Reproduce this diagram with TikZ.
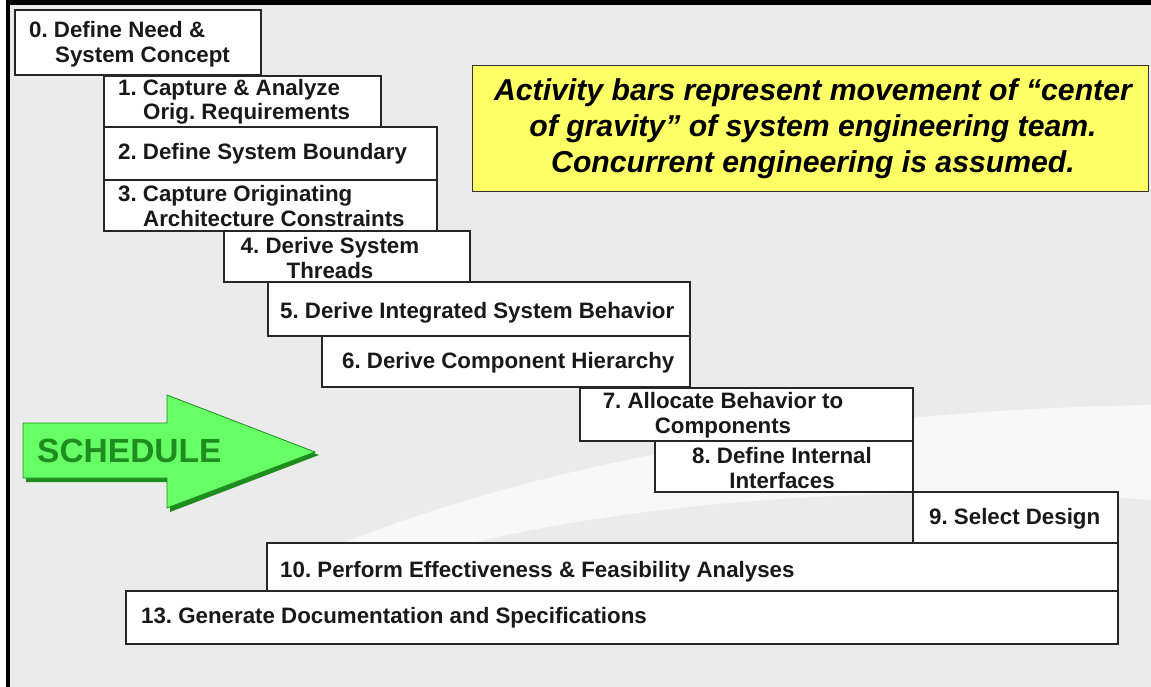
\documentclass[tikz,border=0pt]{standalone}
\usepackage{fontspec}
\setmainfont{Liberation Sans}
\definecolor{bggray}{HTML}{EBEBEB}
\definecolor{noteyellow}{HTML}{FFFF66}
\definecolor{arrowgreen}{HTML}{66FF66}
\definecolor{darkgreen}{HTML}{1E8C1E}
\frenchspacing
\begin{document}
\begin{tikzpicture}[x=1pt,y=-1pt,
  bar/.style={draw=black!85, line width=1.6pt, fill=white, anchor=north west, inner sep=0pt, outer sep=0pt},
  lbl/.style={font=\fontsize{22.3}{24.5}\selectfont\bfseries, text=black!90, inner sep=0pt, anchor=west},
  clbl/.style={lbl, align=center, anchor=center},
  hlbl/.style={lbl, align=left},
  note/.style={draw=black!80, line width=1.4pt, fill=noteyellow, anchor=north west, inner sep=0pt},
  notetext/.style={font=\fontsize{30.2}{36}\selectfont\bfseries\itshape, align=center, inner sep=0pt}
]
\useasboundingbox (0,0) rectangle (1151,687);
% background and frame
\fill[white] (0,0) rectangle (1151,687);
\fill[bggray] (8,2) rectangle (1151,687);
\fill[white, opacity=0.65] (330,548) .. controls (560,455) and (850,410) .. (1151,405)
  -- (1151,500) .. controls (900,482) and (640,500) .. (450,548) -- cycle;
\draw[line width=4pt] (8,687) -- (8,2.5);
\draw[line width=5pt] (6,2.5) -- (1151,2.5);

% schedule arrow
\fill[darkgreen] (26,426) -- (170,426) -- (170,398) -- (319,455) -- (170,512) -- (170,482) -- (26,482) -- cycle;
\filldraw[draw=darkgreen, line width=0.8pt, fill=arrowgreen] (23,423) -- (167,423) -- (167,395) -- (315,452) -- (167,508) -- (167,478) -- (23,478) -- cycle;
\node[font=\fontsize{33.5}{36}\selectfont\bfseries, text=darkgreen, inner sep=0pt, anchor=west] (sched) at (37,451) {SCHEDULE};

% note
\node[note, minimum width=676pt, minimum height=126pt] (notebox) at (472,65) {};
\node[notetext] (notetxt) at (813,129) {Activity bars represent movement of “center\\of gravity” of system engineering team.\\Concurrent engineering is assumed.};

% activity bars
\node[bar, minimum width=246pt, minimum height=65pt] (b0) at (15,10) {};
\node[hlbl] (t0) at (29,44) {0. Define Need \&\\\hspace*{26pt}System Concept};
\node[bar, minimum width=277pt, minimum height=51pt] (b1) at (104,76) {};
\node[hlbl] (t1) at (118,102) {1. Capture \& Analyze\\\hspace*{25pt}Orig. Requirements};
\node[bar, minimum width=333pt, minimum height=53pt] (b2) at (104,127) {};
\node[lbl] (t2) at (118,154) {2. Define System Boundary};
\node[bar, minimum width=333pt, minimum height=51pt] (b3) at (104,180) {};
\node[hlbl] (t3) at (118,206) {3. Capture Originating\\\hspace*{25pt}Architecture Constraints};
\node[bar, minimum width=246pt, minimum height=51pt] (b4) at (224,231) {};
\node[clbl] (t4) at (330,258) {4. Derive System\\Threads};
\node[bar, minimum width=422pt, minimum height=54pt] (b5) at (268,282) {};
\node[lbl] (t5) at (280,313) {5. Derive Integrated System Behavior};
\node[bar, minimum width=368pt, minimum height=51pt] (b6) at (322,336) {};
\node[lbl] (t6) at (342,363) {6. Derive Component Hierarchy};
\node[bar, minimum width=333pt, minimum height=53pt] (b7) at (580,388) {};
\node[clbl] (t7) at (723,415) {7. Allocate Behavior to\\Components};
\node[bar, minimum width=258pt, minimum height=51pt] (b8) at (655,441) {};
\node[clbl] (t8) at (782,468) {8. Define Internal\\Interfaces};
\node[bar, minimum width=205pt, minimum height=51pt] (b9) at (913,492) {};
\node[lbl] (t9) at (929,519) {9. Select Design};
\node[bar, minimum width=851pt, minimum height=48pt] (b10) at (267,543) {};
\node[lbl] (t10) at (280,572) {10. Perform Effectiveness \& Feasibility Analyses};
\node[bar, minimum width=992pt, minimum height=53pt] (b13) at (126,591) {};
\node[lbl] (t13) at (141,618) {13. Generate Documentation and Specifications};
\end{tikzpicture}
\end{document}
